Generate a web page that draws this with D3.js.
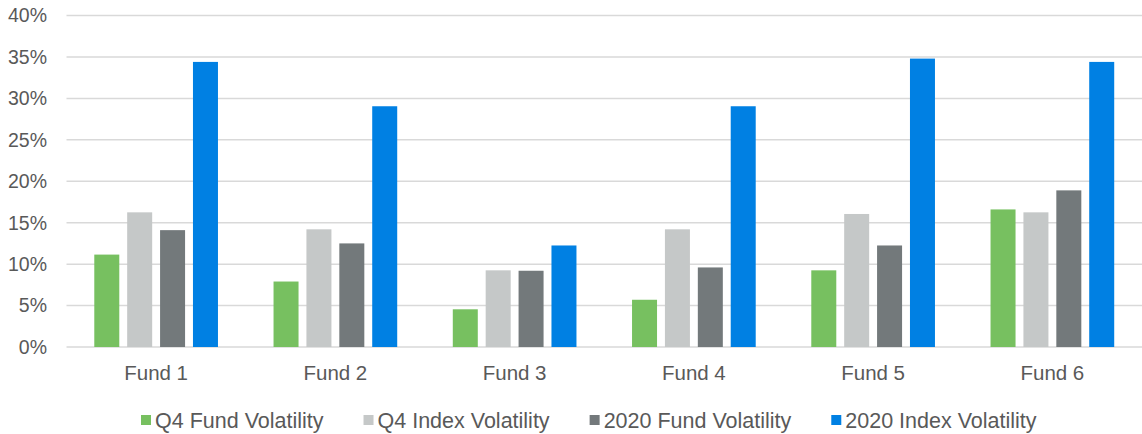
<!DOCTYPE html>
<html>
<head>
<meta charset="utf-8">
<script src="https://cdn.jsdelivr.net/npm/d3@7"></script>
<style>
  body { margin: 0; background: #fff; }
  text { font-family: "Liberation Sans", Arial, sans-serif; fill: #595959; }
</style>
</head>
<body>
<svg id="chart" width="1142" height="434"></svg>
<script>
const funds = ['Fund 1', 'Fund 2', 'Fund 3', 'Fund 4', 'Fund 5', 'Fund 6'];
const seriesNames = ['Q4 Fund Volatility', 'Q4 Index Volatility', '2020 Fund Volatility', '2020 Index Volatility'];
const seriesColors = ['#77c060', '#c5c8c8', '#73797b', '#0080e3'];

// values in %
const q4Fund = [11.15, 7.9, 4.55, 5.7, 9.25, 16.6];
const q4Index = [16.25, 14.2, 9.25, 14.2, 16.05, 16.25];
const fund2020 = [14.1, 12.5, 9.2, 9.6, 12.25, 18.9];
const index2020 = [34.4, 29.05, 12.25, 29.05, 34.8, 34.4];
const yTicks = [0, 5, 10, 15, 20, 25, 30, 35, 40];

const allSeries = [q4Fund, q4Index, fund2020, index2020];

const svg = d3.select('#chart');
const margin = { top: 15.5, right: 0, bottom: 87, left: 66.5 };
const width = 1142 - margin.left - margin.right;
const height = 434 - margin.top - margin.bottom;

const g = svg.append('g').attr('transform', `translate(${margin.left},${margin.top})`);

const x0 = d3.scaleBand().domain(funds).range([0, width]).paddingInner(0.31).paddingOuter(0.155);
const x1 = d3.scaleBand().domain(d3.range(4)).range([0, x0.bandwidth()]).paddingInner(0.24).paddingOuter(0);
const y = d3.scaleLinear().domain([0, 40]).range([height, 0]);

// gridlines
g.append('g')
  .selectAll('line')
  .data(yTicks)
  .join('line')
  .attr('x1', 0)
  .attr('x2', width)
  .attr('y1', d => y(d))
  .attr('y2', d => y(d))
  .attr('stroke', '#d9d9d9')
  .attr('stroke-width', 1.5);

// y labels
g.append('g')
  .selectAll('text')
  .data(yTicks)
  .join('text')
  .attr('x', -19.5)
  .attr('y', d => y(d))
  .attr('dy', '0.35em')
  .attr('text-anchor', 'end')
  .attr('font-size', 19.5)
  .text(d => d + '%');

// bars
const groups = g.append('g')
  .selectAll('g')
  .data(funds)
  .join('g')
  .attr('transform', d => `translate(${x0(d)},0)`);

groups.selectAll('rect')
  .data((d, i) => allSeries.map((s, k) => ({ k, v: s[i] })))
  .join('rect')
  .attr('x', d => x1(d.k))
  .attr('width', x1.bandwidth())
  .attr('y', d => y(d.v))
  .attr('height', d => y(0) - y(d.v))
  .attr('fill', d => seriesColors[d.k]);

// category labels
g.append('g')
  .selectAll('text')
  .data(funds)
  .join('text')
  .attr('x', d => x0(d) + x0.bandwidth() / 2)
  .attr('y', height + 32.5)
  .attr('text-anchor', 'middle')
  .attr('font-size', 20.5)
  .text(d => d);

// legend
const legend = svg.append('g').attr('transform', 'translate(141, 420)');
let lx = 0;
seriesNames.forEach((name, i) => {
  const item = legend.append('g').attr('transform', `translate(${lx},0)`);
  item.append('rect')
    .attr('x', 0)
    .attr('y', -5)
    .attr('width', 10)
    .attr('height', 10)
    .attr('fill', seriesColors[i]);
  const t = item.append('text')
    .attr('x', 14)
    .attr('y', 0)
    .attr('dy', '0.36em')
    .attr('font-size', 21.5)
    .text(name);
  lx += 14 + t.node().getComputedTextLength() + 40;
});
</script>
</body>
</html>
